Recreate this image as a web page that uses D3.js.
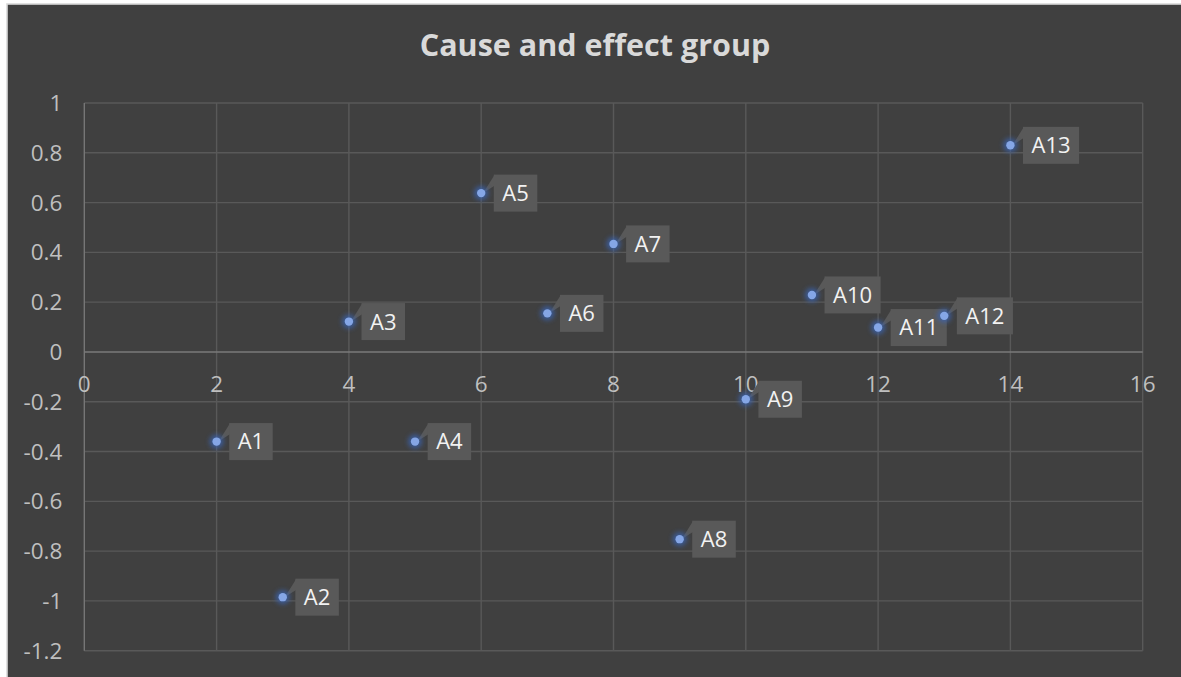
<!DOCTYPE html>
<html>
<head>
<meta charset="utf-8">
<script src="https://cdn.jsdelivr.net/npm/d3@7"></script>
<style>
  html, body { margin: 0; padding: 0; background: #ffffff; }
  svg { display: block; }
</style>
</head>
<body>
<svg id="chart" width="1181" height="677"></svg>
<script>
// Cause-and-effect scatter: each factor's index against its net effect
const names   = ["A1", "A2", "A3", "A4", "A5", "A6", "A7", "A8", "A9", "A10", "A11", "A12", "A13"];
const xValues = [2, 3, 4, 5, 6, 7, 8, 9, 10, 11, 12, 13, 14];
const yValues = [-0.36, -0.985, 0.122, -0.36, 0.638, 0.155, 0.434, -0.752, -0.19, 0.229, 0.098, 0.145, 0.83];

const xTicks = [0, 2, 4, 6, 8, 10, 12, 14, 16];
const xTickLabels = ["0", "2", "4", "6", "8", "10", "12", "14", "16"];
const yTicks = [1, 0.8, 0.6, 0.4, 0.2, 0, -0.2, -0.4, -0.6, -0.8, -1, -1.2];
const yTickLabels = ["1", "0.8", "0.6", "0.4", "0.2", "0", "-0.2", "-0.4", "-0.6", "-0.8", "-1", "-1.2"];

const title = "Cause and effect group";

const svg = d3.select("#chart");
const W = 1181, H = 677;
const FONT = "'Open Sans', 'Noto Sans', sans-serif";
const TICK_SIZE = 22.5, LABEL_SIZE = 22;

// chart frame
svg.append("rect")
  .attr("x", 7).attr("y", 4)
  .attr("width", W + 20).attr("height", H + 20)
  .attr("fill", "#404040")
  .attr("stroke", "#d9d9d9").attr("stroke-width", 1.6);

const plot = { left: 84.3, right: 1142.7, top: 103, bottom: 650.7 };

const x = d3.scaleLinear().domain([0, 16]).range([plot.left, plot.right]);
const y = d3.scaleLinear().domain([-1.2, 1]).range([plot.bottom, plot.top]);

// glow filter for the markers
const defs = svg.append("defs");
const f = defs.append("filter").attr("id", "glow")
  .attr("x", "-100%").attr("y", "-100%").attr("width", "300%").attr("height", "300%");
f.append("feGaussianBlur").attr("stdDeviation", 2.4);

// title
svg.append("text")
  .attr("x", 595).attr("y", 56)
  .attr("text-anchor", "middle")
  .attr("font-family", FONT).attr("font-weight", 700)
  .attr("font-size", 30.5)
  .attr("fill", "#d9d9d9")
  .text(title);

// gridlines
const grid = svg.append("g");
grid.selectAll("line.h").data(yTicks.filter(v => v !== 0)).join("line")
  .attr("x1", plot.left).attr("x2", plot.right)
  .attr("y1", d => y(d)).attr("y2", d => y(d))
  .attr("stroke", "#595959").attr("stroke-width", 1.4);
grid.selectAll("line.v").data(xTicks.filter(v => v !== 0)).join("line")
  .attr("x1", d => x(d)).attr("x2", d => x(d))
  .attr("y1", plot.top).attr("y2", plot.bottom)
  .attr("stroke", "#595959").attr("stroke-width", 1.4);

// axis lines through zero
svg.append("line")
  .attr("x1", x(0)).attr("x2", x(0)).attr("y1", plot.top).attr("y2", plot.bottom)
  .attr("stroke", "#767676").attr("stroke-width", 1.4);
svg.append("line")
  .attr("x1", plot.left).attr("x2", plot.right).attr("y1", y(0)).attr("y2", y(0))
  .attr("stroke", "#7a7a7a").attr("stroke-width", 1.6);

// y tick labels
svg.append("g").selectAll("text").data(yTicks).join("text")
  .attr("x", plot.left - 22)
  .attr("y", d => y(d))
  .attr("dy", "0.36em")
  .attr("text-anchor", "end")
  .attr("font-family", FONT).attr("font-size", TICK_SIZE)
  .attr("fill", "#bfbfbf")
  .text((d, i) => yTickLabels[i]);

// x tick labels, hung below the zero line
svg.append("g").selectAll("text").data(xTicks).join("text")
  .attr("x", d => x(d))
  .attr("y", y(0) + 40)
  .attr("text-anchor", "middle")
  .attr("font-family", FONT).attr("font-size", TICK_SIZE)
  .attr("fill", "#bfbfbf")
  .text((d, i) => xTickLabels[i]);

const pts = names.map((n, i) => ({ name: n, x: xValues[i], y: yValues[i] }));

// callout labels
const callouts = svg.append("g");
pts.forEach(p => {
  const px = x(p.x), py = y(p.y);
  const g = callouts.append("g");
  const t = g.append("text")
    .attr("font-family", FONT).attr("font-size", LABEL_SIZE)
    .attr("fill", "#f2f2f2")
    .text(p.name);
  const tw = t.node().getComputedTextLength();
  const bx = px + 12.6, bh = 37, by = py - bh / 2, bw = tw + 17;
  g.insert("path", "text")
    .attr("d", `M${px + 2},${py} L${bx + 1},${by} L${bx + 1},${by + 11} Z`)
    .attr("fill", "#595959");
  g.insert("rect", "text")
    .attr("x", bx).attr("y", by).attr("width", bw).attr("height", bh)
    .attr("fill", "#595959");
  t.attr("x", bx + 8.5).attr("y", py).attr("dy", "0.36em");
});

// markers
const marks = svg.append("g");
marks.selectAll("circle.glow").data(pts).join("circle")
  .attr("class", "glow")
  .attr("cx", d => x(d.x)).attr("cy", d => y(d.y))
  .attr("r", 7)
  .attr("fill", "#3b63b0").attr("opacity", 0.8)
  .attr("filter", "url(#glow)");
marks.selectAll("circle.dot").data(pts).join("circle")
  .attr("class", "dot")
  .attr("cx", d => x(d.x)).attr("cy", d => y(d.y))
  .attr("r", 4.2)
  .attr("fill", "#85a6e6");
</script>
</body>
</html>
